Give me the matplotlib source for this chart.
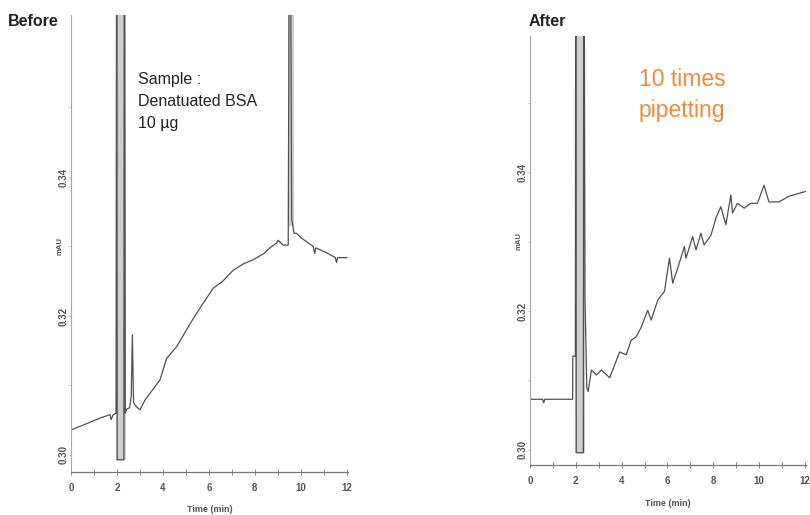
import matplotlib
matplotlib.use("Agg")
import matplotlib.pyplot as plt

plt.rcParams['font.family'] = ['Liberation Sans', 'DejaVu Sans']

# --- data (mAU vs min) ---
OFF = 0.40  # off-scale (saturated) level
before_t = [0, 0.6, 1.26, 1.7, 1.74, 1.84, 1.96, 1.99, 2.01, 2.30, 2.32, 2.36, 2.42,
            2.55, 2.62, 2.67, 2.72, 2.86, 3.0, 3.22, 3.87, 4.16, 4.6, 5.2, 5.7, 6.19,
            6.6, 7.06, 7.5, 7.93, 8.4, 8.65, 8.94, 9.01, 9.23, 9.45, 9.52, 9.60, 9.70,
            9.81, 10.03, 10.54, 10.6, 10.65, 11.12, 11.5, 11.55, 11.6, 12.0]
before_v = [0.3036, 0.3044, 0.3053, 0.3058, 0.3051, 0.3058, 0.3060, OFF, 0.2993, 0.2993,
            OFF, 0.3060, 0.3066, 0.3068, 0.3085, 0.3173, 0.3075, 0.3069, 0.3065, 0.3079,
            0.3108, 0.3139, 0.3156, 0.3190, 0.3216, 0.3240, 0.3250, 0.3266, 0.3275,
            0.3281, 0.3290, 0.3298, 0.3305, 0.3309, 0.3302, 0.3302, OFF, 0.3340, 0.3319,
            0.3319, 0.3312, 0.3300, 0.3290, 0.3298, 0.3291, 0.3284, 0.3277, 0.3284, 0.3284]
before_band = (1.97, 2.40, 0.2993)   # saturated peak band: t0, t1, floor
before_band2 = (9.45, 9.72, 0.3330)

after_t = [0, 0.55, 0.6, 0.65, 1.86, 1.87, 1.98, 2.0, 2.02, 2.33, 2.35, 2.40, 2.48,
           2.54, 2.68, 2.90, 3.12, 3.48, 3.91, 4.20, 4.42, 4.64, 4.86, 5.14, 5.29, 5.58,
           5.87, 6.09, 6.23, 6.52, 6.74, 6.81, 7.10, 7.25, 7.46, 7.60, 7.90, 8.12, 8.33,
           8.55, 8.77, 8.84, 9.06, 9.35, 9.64, 9.93, 10.22, 10.43, 10.87, 11.30, 12.03]
after_v = [0.3073, 0.3073, 0.3068, 0.3073, 0.3073, 0.3135, 0.3135, OFF, 0.2996, 0.2996,
           OFF, 0.3220, 0.3090, 0.3084, 0.3115, 0.3108, 0.3115, 0.3104, 0.3141, 0.3137,
           0.3158, 0.3163, 0.3177, 0.3201, 0.3187, 0.3216, 0.3228, 0.3276, 0.3240,
           0.3269, 0.3293, 0.3276, 0.3307, 0.3288, 0.3312, 0.3295, 0.3309, 0.3334,
           0.3350, 0.3324, 0.3367, 0.3341, 0.3355, 0.3348, 0.3355, 0.3355, 0.3381,
           0.3357, 0.3357, 0.3365, 0.3372]
after_band = (1.96, 2.39, 0.2996)

x_ticks = [0, 2, 4, 6, 8, 10, 12]
y_ticks = [0.30, 0.32, 0.34]
y_minor = [0.31, 0.33, 0.35]

fig = plt.figure(figsize=(8.1, 5.15), dpi=100)
W, H = 810, 515


def panel(px0, px1, py_top, py_bot, ylim, t, v, bands):
    ax = fig.add_axes([px0 / W, 1 - py_bot / H, (px1 - px0) / W, (py_bot - py_top) / H])
    for b0, b1, floor in bands:
        ax.fill_between([b0, b1], [floor, floor], [OFF, OFF], color="#cfcfcf", lw=0)
    ax.plot(t, v, color="#505050", lw=0.9)
    ax.set_xlim(0, 12.05)
    ax.set_ylim(*ylim)
    for s in ("top", "right"):
        ax.spines[s].set_visible(False)
    ax.spines["left"].set_color("#a8a8a8")
    ax.spines["bottom"].set_color("#777777")
    ax.spines["left"].set_linewidth(0.8)
    ax.spines["bottom"].set_linewidth(0.9)
    ax.set_xticks(x_ticks)
    ax.set_xticks(range(1, 12, 2), minor=True)
    ax.set_yticks(y_ticks)
    ax.set_yticks(y_minor, minor=True)
    ax.set_yticklabels([f"{y:.2f}" for y in y_ticks], rotation=90, va="center")
    ax.tick_params(axis="x", which="both", direction="inout", length=4, width=0.7,
                   color="#888888", labelsize=7, labelcolor="#555555", pad=6)
    ax.tick_params(axis="y", which="both", direction="out", length=1.5, width=0.7,
                   color="#bbbbbb", labelsize=7, labelcolor="#555555", pad=0.5)
    for lab in ax.get_xticklabels() + ax.get_yticklabels():
        lab.set_fontweight("bold")
    ax.text(-0.028, 0.33, "mAU", transform=ax.get_yaxis_transform(), rotation=90,
            ha="right", va="center", fontsize=5.5, fontweight="bold", color="#555555")
    fig.text((px0 + px1) / 2 / W, 1 - (py_bot + 38) / H, "Time (min)", ha="center",
             va="center", fontsize=6.5, fontweight="bold", color="#555555")
    return ax


axL = panel(71, 348, 15, 472, (0.29755, 0.36331), before_t, before_v,
            [before_band, before_band2])
axR = panel(530, 806, 36, 465, (0.29784, 0.35957), after_t, after_v, [after_band])

fig.text(8 / W, 1 - 22 / H, "Before", fontsize=11.5, fontweight="bold",
         ha="left", va="center", color="#222222")
fig.text(529 / W, 1 - 22 / H, "After", fontsize=11.5, fontweight="bold",
         ha="left", va="center", color="#222222")
fig.text(138 / W, 1 - 72 / H, "Sample :\nDenatuated BSA\n10 µg",
         fontsize=11.5, ha="left", va="top", linespacing=1.6, color="#222222")
fig.text(682 / W, 1 - 68 / H, "10 times\npipetting", fontsize=16.5, ha="center", va="top",
         linespacing=1.45, color="#EE8B3A")

fig.savefig("out.png", dpi=100)
